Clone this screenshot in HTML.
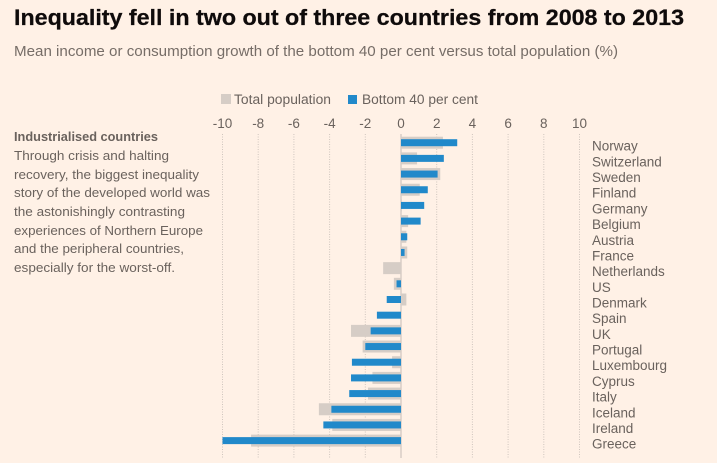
<!DOCTYPE html>
<html>
<head>
<meta charset="utf-8">
<style>
html,body{margin:0;padding:0;background:#fff1e6;}
svg{display:block;font-family:"Liberation Sans",sans-serif;}
</style>
</head>
<body>
<svg id="chart" width="717" height="463" viewBox="0 0 717 463" xmlns="http://www.w3.org/2000/svg">
<rect width="717" height="463" fill="#fff1e6"/>
<text x="14" y="25" font-size="22" font-weight="700" fill="#0f0b0b" stroke="#0f0b0b" stroke-width="0.25" textLength="670" lengthAdjust="spacingAndGlyphs">Inequality fell in two out of three countries from 2008 to 2013</text>
<text x="14" y="56" font-size="15" fill="#766d67" textLength="604" lengthAdjust="spacingAndGlyphs">Mean income or consumption growth of the bottom 40 per cent versus total population (%)</text>
<g>
<rect x="221" y="94" width="10" height="10" fill="#d6cdc6"/>
<text x="234" y="104" font-size="13.5" fill="#6a625d" textLength="97" lengthAdjust="spacingAndGlyphs">Total population</text>
<rect x="348" y="95" width="9" height="9" fill="#2189ca"/>
<text x="362" y="104" font-size="13.5" fill="#6a625d" textLength="116" lengthAdjust="spacingAndGlyphs">Bottom 40 per cent</text>
</g>
<g fill="#6a625d" font-size="13">
<text x="14" y="141" font-weight="700" textLength="144" lengthAdjust="spacingAndGlyphs">Industrialised countries</text>
<text x="14" y="160" textLength="155" lengthAdjust="spacingAndGlyphs">Through crisis and halting</text>
<text x="14" y="179" textLength="185" lengthAdjust="spacingAndGlyphs">recovery, the biggest inequality</text>
<text x="14" y="197" textLength="196" lengthAdjust="spacingAndGlyphs">story of the developed world was</text>
<text x="14" y="216" textLength="171" lengthAdjust="spacingAndGlyphs">the astonishingly contrasting</text>
<text x="14" y="235" textLength="189" lengthAdjust="spacingAndGlyphs">experiences of Northern Europe</text>
<text x="14" y="253" textLength="170" lengthAdjust="spacingAndGlyphs">and the peripheral countries,</text>
<text x="14" y="272" textLength="161" lengthAdjust="spacingAndGlyphs">especially for the worst-off.</text>
</g>
<g id="grid"></g>
<g id="bars"></g>
<g id="labels"></g>
</svg>
<script>
const countries = ["Norway","Switzerland","Sweden","Finland","Germany","Belgium","Austria","France","Netherlands","US","Denmark","Spain","UK","Portugal","Luxembourg","Cyprus","Italy","Iceland","Ireland","Greece"];
const totalPopulation = [2.35,0.9,2.2,1.05,0.05,0.4,0.3,0.35,-1.0,-0.4,0.3,0,-2.8,-2.15,-0.5,-1.6,-1.85,-4.6,-3.85,-8.4];
const bottom40 = [3.15,2.4,2.05,1.5,1.3,1.1,0.35,0.2,0,-0.25,-0.8,-1.35,-1.7,-2.0,-2.75,-2.8,-2.9,-3.9,-4.35,-10];
const ticks = [-10,-8,-6,-4,-2,0,2,4,6,8,10];

const NS = "http://www.w3.org/2000/svg";
const xScale = v => 401 + v * 17.85;
const yScale = i => 142.7 + i * 15.68;

function make(tag, parent, attrs) {
  const el = document.createElementNS(NS, tag);
  for (const k in attrs) el.setAttribute(k, attrs[k]);
  parent.appendChild(el);
  return el;
}
const grid = document.getElementById("grid");
const bars = document.getElementById("bars");
const labels = document.getElementById("labels");







ticks.forEach(t => {
  const line = make("line", grid, {x1: xScale(t), x2: xScale(t), y1: 134, y2: 458, stroke: "#cfc5bd", "stroke-width": t === 0 ? 1.2 : 1, "stroke-dasharray": t === 0 ? "none" : "1 1.5"});
  
  
  const label = make("text", grid, {x: xScale(t), y: 128, "font-size": 13.5, fill: "#6a625d", "text-anchor": "middle"});
  label.textContent = t;
  
  
});

countries.forEach((c, i) => {
  const y = yScale(i);
  const tv = totalPopulation[i];
  const bv = bottom40[i];
  if (tv !== 0) {
    const r = make("rect", bars, {x: Math.min(xScale(0), xScale(tv)), y: y - 6, width: Math.abs(xScale(tv) - xScale(0)), height: 12, fill: "#d6cdc6"});
    
    
  }
  if (bv !== 0) {
    const r = make("rect", bars, {x: Math.min(xScale(0), xScale(bv)), y: y - 3.5, width: Math.abs(xScale(bv) - xScale(0)), height: 7, fill: "#2189ca"});
    
    
  }
  const t = make("text", labels, {x: 592, y: y + 8, "font-size": 13.5, fill: "#6a625d"});
  t.textContent = c;
  
  
});
</script>
</body>
</html>
